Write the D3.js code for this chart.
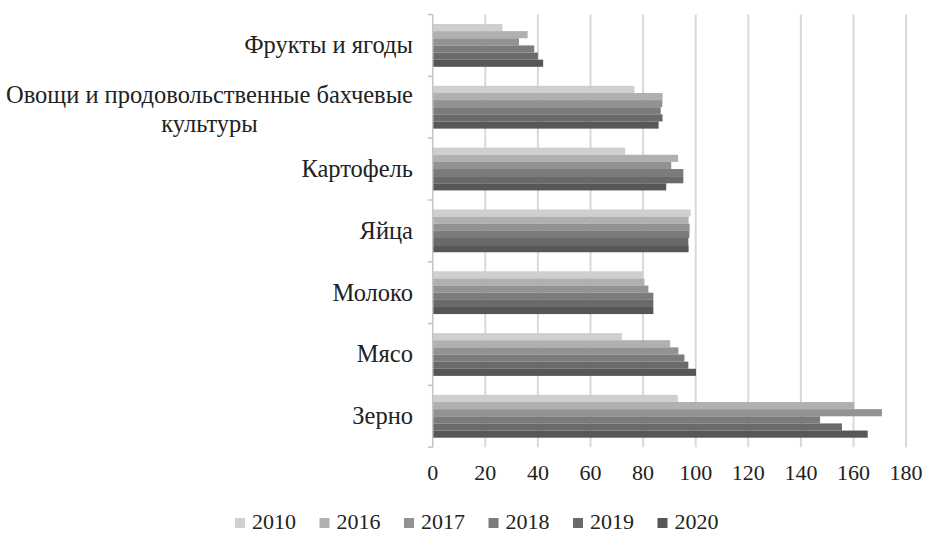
<!DOCTYPE html>
<html><head><meta charset="utf-8">
<script src="https://cdn.jsdelivr.net/npm/d3@7"></script>
<style>body{margin:0;background:#fff}svg{display:block}text{font-family:"Liberation Serif","Times New Roman",serif;fill:#222}</style>
</head><body><svg id="c" width="927" height="534"></svg>
<script>
const categories = ["Фрукты и ягоды","Овощи и продовольственные бахчевые культуры","Картофель","Яйца","Молоко","Мясо","Зерно"];
const years = ["2010","2016","2017","2018","2019","2020"];
const v2010 = [26.5, 76.7, 73.2, 98.1, 79.8, 71.9, 93.2];
const v2016 = [36.1, 87.4, 93.3, 97.3, 80.5, 90.3, 160.3];
const v2017 = [32.8, 87.3, 90.7, 97.7, 82.0, 93.4, 170.8];
const v2018 = [38.6, 86.7, 95.3, 97.6, 83.9, 95.7, 147.3];
const v2019 = [40.0, 87.4, 95.3, 97.2, 83.9, 97.2, 155.6];
const v2020 = [42.0, 85.9, 88.8, 97.3, 83.9, 100.1, 165.4];
const xTicks = [0,20,40,60,80,100,120,140,160,180];
const colors = ["#cfcfcf","#b0b0b0","#929292","#7b7b7b","#6a6a6a","#575757"];
const series = [v2010,v2016,v2017,v2018,v2019,v2020];

(function(){
const svg = d3.select("#c");
const pl = 432.7, pr = 906.1, pt = 14.5, pb = 447.2;
const x = d3.scaleLinear().domain([0,180]).range([pl,pr]);
const y = d3.scaleBand().domain(categories).range([pt,pb]).paddingInner(0).paddingOuter(0);
const inner = d3.scaleBand().domain(years).range([9.5, y.bandwidth()-9.5]).padding(0);

// gridlines
svg.append("g").selectAll("line").data(xTicks.slice(1)).join("line")
  .attr("x1",d=>x(d)).attr("x2",d=>x(d)).attr("y1",pt).attr("y2",pb)
  .attr("stroke","#d9d9d9").attr("stroke-width",2);

// bars
categories.forEach((c,ci)=>{
  const g = svg.append("g").attr("transform",`translate(0,${y(c)})`);
  years.forEach((yr,si)=>{
    g.append("rect").attr("x",x(0)).attr("y",inner(yr))
     .attr("width",x(series[si][ci])-x(0)).attr("height",inner.bandwidth())
     .attr("fill",colors[si]);
  });
});

// y axis line + ticks
svg.append("line").attr("x1",pl).attr("x2",pl).attr("y1",pt).attr("y2",pb)
  .attr("stroke","#c4c4c4").attr("stroke-width",1.5);
const bounds = categories.map(c=>y(c)).concat([pb]);
svg.append("g").selectAll("line").data(bounds).join("line")
  .attr("x1",pl-5).attr("x2",pl).attr("y1",d=>d).attr("y2",d=>d)
  .attr("stroke","#c4c4c4").attr("stroke-width",1.5);

// x tick labels
svg.append("g").selectAll("text").data(xTicks).join("text")
  .attr("x",d=>x(d)).attr("y",480).attr("text-anchor","middle")
  .style("font-size","22px").text(d=>d);

// category labels
const labelRight = 413, fs = "24.5px";
categories.forEach(c=>{
  const cy = y(c)+y.bandwidth()/2;
  if(c.startsWith("Овощи")){
    const l1 = "Овощи и продовольственные бахчевые", l2 = "культуры";
    const t = svg.append("text").attr("y",cy-4).style("font-size",fs).attr("text-anchor","end").attr("x",labelRight).text(l1);
    const w = t.node().getComputedTextLength();
    const mid = labelRight - w/2;
    svg.append("text").attr("x",mid).attr("y",cy+25).attr("text-anchor","middle").style("font-size",fs).text(l2);
  } else {
    svg.append("text").attr("x",labelRight).attr("y",cy+8).attr("text-anchor","end")
      .style("font-size",fs).text(c);
  }
});

// legend
const lg = svg.append("g");
years.forEach((yr,i)=>{
  const lx = 235 + i*84.5;
  lg.append("rect").attr("x",lx).attr("y",518).attr("width",10).attr("height",10).attr("fill",colors[i]);
  lg.append("text").attr("x",lx+17).attr("y",528.5).style("font-size","22px").text(yr);
});
})();
</script></body></html>
